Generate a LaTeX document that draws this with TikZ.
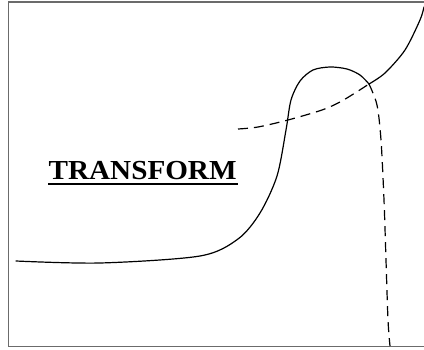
\documentclass[tikz,border=0pt]{standalone}
\usepackage{fontspec}
\setmainfont{Liberation Serif}
\begin{document}
\begin{tikzpicture}[x=1pt,y=-1pt,
  curve/.style={line width=1.2pt,line join=round,line cap=round},
  dashcurve/.style={curve,line cap=butt,dash pattern=on 10pt off 6pt},
  frameline/.style={draw=black!58,line width=1.6pt}]
\useasboundingbox (0,0) rectangle (424,349);
\draw[frameline] (424,1.8) -- (8.6,1.8) -- (8.6,346.6) -- (424,346.6);
% curve A: solid part
\draw[curve] plot[smooth,tension=0.5] coordinates {(16,261) (100,263) (200,256) (238,239) (260,213) (277,176) (286,130) (291,100) (300,81) (313,70) (330,67) (347,69) (360,75) (369,84)};
% curve A: dashed part
\draw[dashcurve] plot[smooth,tension=0.5] coordinates {(369,84) (377,105) (381,140) (384,200) (386,260) (388,320) (390,346)};
% curve B: dashed part
\draw[dashcurve] plot[smooth,tension=0.5] coordinates {(238,129) (258,127) (288,120) (322,110) (340,102) (355,93) (369,84)};
% curve B: solid part
\draw[curve] plot[smooth,tension=0.5] coordinates {(369,84) (385,73) (405,50) (420,20) (424,7)};
\node[font=\bfseries\fontsize{27.5}{30}\selectfont,inner sep=0pt,anchor=base west,xscale=1.06] (label) at (48.5,179.5) {TRANSFORM};
\coordinate (ul) at (48,184.3);
\coordinate (ur) at (238,184.3);
\draw[line width=2pt] (ul) -- (ur);
\end{tikzpicture}
\end{document}
